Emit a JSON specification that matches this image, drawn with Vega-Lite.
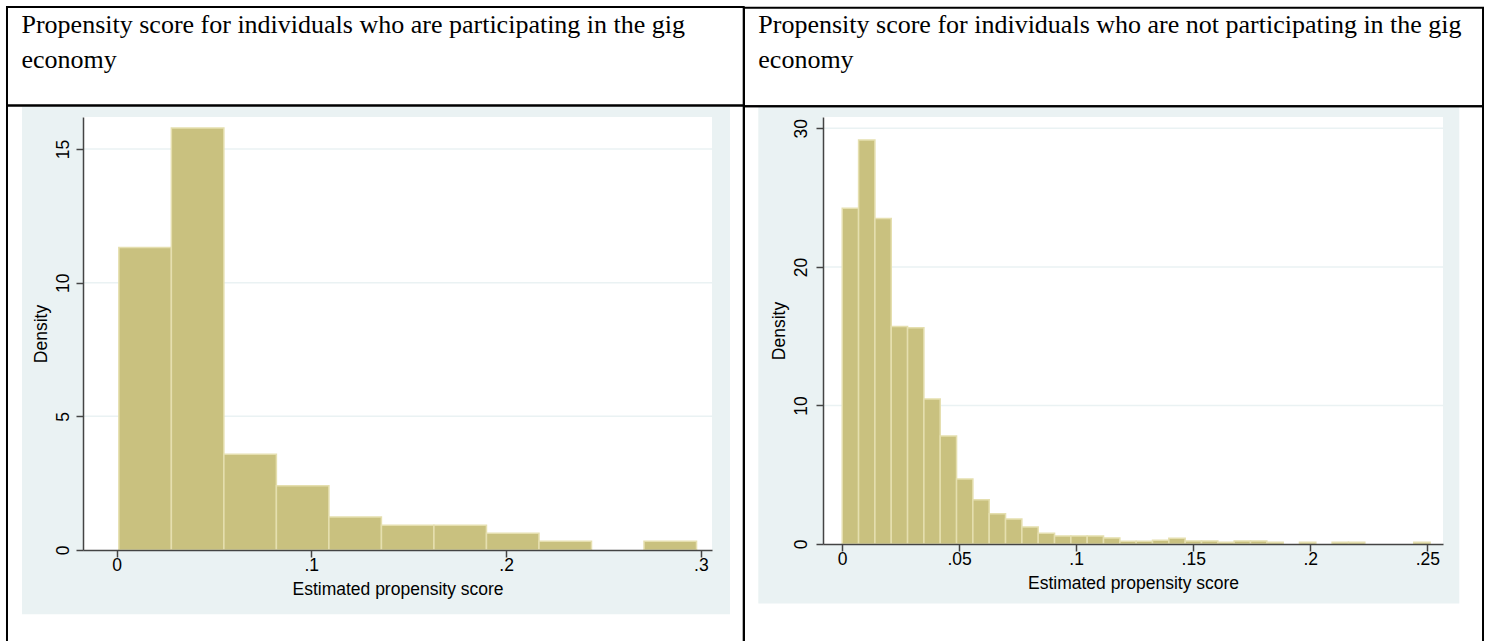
{
  "$schema": "https://vega.github.io/schema/vega-lite/v6.json",
  "background": "white",
  "padding": 5,
  "spacing": -2,
  "config": {
    "view": {"stroke": null},
    "axis": {
      "domainColor": "#444444", "domainWidth": 1.5,
      "tickColor": "#444444", "tickWidth": 1.5, "tickSize": 7,
      "labelFont": "Liberation Sans", "labelFontSize": 17.5, "labelColor": "black",
      "titleFont": "Liberation Sans", "titleFontSize": 17.5, "titleFontWeight": "normal", "titleColor": "black",
      "grid": false
    },
    "axisX": {"labelPadding": -1, "titlePadding": 7, "labelAngle": 0,
      "labelExpr": "datum.value == 0 ? '0' : replace(format(datum.value, '~g'), '0.', '.')"},
    "axisY": {"labelAngle": -90, "labelAlign": "center", "labelBaseline": "alphabetic", "labelPadding": 8, "titlePadding": 4}
  },
  "hconcat": [
    {
      "width": 629,
      "height": 433,
      "data": {"values": [
        {"x0": 0.0012, "x1": 0.02816, "density": 11.32},
        {"x0": 0.02816, "x1": 0.05512, "density": 15.79},
        {"x0": 0.05512, "x1": 0.08208, "density": 3.58},
        {"x0": 0.08208, "x1": 0.10904, "density": 2.40},
        {"x0": 0.10904, "x1": 0.13600, "density": 1.23},
        {"x0": 0.13600, "x1": 0.16296, "density": 0.93},
        {"x0": 0.16296, "x1": 0.18992, "density": 0.93},
        {"x0": 0.18992, "x1": 0.21688, "density": 0.63},
        {"x0": 0.21688, "x1": 0.24384, "density": 0.33},
        {"x0": 0.27080, "x1": 0.29776, "density": 0.33}
      ]},
      "layer": [
        {
          "data": {"values": [{}]},
          "mark": {"type": "rect", "fill": "#EAF2F3", "clip": false},
          "encoding": {
            "x": {"datum": -0.04851, "type": "quantitative", "scale": {"domain": [-0.0172, 0.3057], "nice": false, "zero": false}},
            "x2": {"datum": 0.31494},
            "y": {"datum": 16.593, "type": "quantitative", "scale": {"domain": [0, 16.2], "nice": false, "zero": false}},
            "y2": {"datum": -2.406}
          }
        },
        {
          "data": {"values": [{}]},
          "mark": {"type": "rect", "fill": "white", "clip": false},
          "encoding": {
            "x": {"datum": -0.0172, "type": "quantitative", "scale": {"domain": [-0.0172, 0.3057], "nice": false, "zero": false}},
            "x2": {"datum": 0.3057},
            "y": {"datum": 16.2, "type": "quantitative", "scale": {"domain": [0, 16.2], "nice": false, "zero": false}},
            "y2": {"datum": 0}
          }
        },
        {
          "data": {"values": [{"g": 5}, {"g": 10}, {"g": 15}]},
          "mark": {"type": "rule", "color": "#EAF2F3", "strokeWidth": 1.5},
          "encoding": {
            "y": {"field": "g", "type": "quantitative", "scale": {"domain": [0, 16.2], "nice": false, "zero": false}}
          }
        },
        {
          "data": {"values": [{}]},
          "mark": {"type": "rect", "filled": false, "color": "black", "strokeWidth": 2, "clip": false},
          "encoding": {
            "x": {"datum": -0.05622, "type": "quantitative", "scale": {"domain": [-0.0172, 0.3057], "nice": false, "zero": false}},
            "x2": {"datum": 0.32197},
            "y": {"datum": 20.316, "type": "quantitative", "scale": {"domain": [0, 16.2], "nice": false, "zero": false}},
            "y2": {"datum": 16.630}
          }
        },
        {
          "data": {"values": [{}]},
          "mark": {"type": "rect", "filled": false, "color": "black", "strokeWidth": 2, "clip": false},
          "encoding": {
            "x": {"datum": -0.05622, "type": "quantitative", "scale": {"domain": [-0.0172, 0.3057], "nice": false, "zero": false}},
            "x2": {"datum": 0.32197},
            "y": {"datum": 16.630, "type": "quantitative", "scale": {"domain": [0, 16.2], "nice": false, "zero": false}},
            "y2": {"datum": -4.153}
          }
        },
        {
          "data": {"values": [{"t": "Propensity score for individuals who are participating in the gig\neconomy"}]},
          "mark": {"type": "text", "font": "Liberation Serif", "fontSize": 26, "lineHeight": 35, "align": "left", "baseline": "alphabetic", "color": "black", "lineBreak": "\n", "clip": false},
          "encoding": {
            "x": {"datum": -0.04877, "type": "quantitative", "scale": {"domain": [-0.0172, 0.3057], "nice": false, "zero": false}},
            "y": {"datum": 19.354, "type": "quantitative", "scale": {"domain": [0, 16.2], "nice": false, "zero": false}},
            "text": {"field": "t"}
          }
        },
        {
          "mark": {"type": "rect", "fill": "#C9C17F", "stroke": "#E5DFAF", "strokeWidth": 1.5, "clip": false},
          "encoding": {
            "x": {"field": "x0", "type": "quantitative", "scale": {"domain": [-0.0172, 0.3057], "nice": false, "zero": false},
              "axis": {"title": "Estimated propensity score", "values": [0, 0.1, 0.2, 0.3], "zindex": 1}},
            "x2": {"field": "x1"},
            "y": {"field": "density", "type": "quantitative", "scale": {"domain": [0, 16.2], "nice": false, "zero": false},
              "axis": {"title": "Density", "values": [0, 5, 10, 15], "labelPadding": 8, "zindex": 1}},
            "y2": {"datum": 0}
          }
        }
      ]
    },
    {
      "width": 620,
      "height": 427,
      "data": {"values": [
        {"x0": 0.000100, "x1": 0.007075, "density": 24.23},
        {"x0": 0.007075, "x1": 0.014050, "density": 29.16},
        {"x0": 0.014050, "x1": 0.021025, "density": 23.50},
        {"x0": 0.021025, "x1": 0.028000, "density": 15.69},
        {"x0": 0.028000, "x1": 0.034975, "density": 15.61},
        {"x0": 0.034975, "x1": 0.041950, "density": 10.47},
        {"x0": 0.041950, "x1": 0.048925, "density": 7.80},
        {"x0": 0.048925, "x1": 0.055900, "density": 4.69},
        {"x0": 0.055900, "x1": 0.062875, "density": 3.20},
        {"x0": 0.062875, "x1": 0.069850, "density": 2.19},
        {"x0": 0.069850, "x1": 0.076825, "density": 1.80},
        {"x0": 0.076825, "x1": 0.083800, "density": 1.23},
        {"x0": 0.083800, "x1": 0.090775, "density": 0.77},
        {"x0": 0.090775, "x1": 0.097750, "density": 0.58},
        {"x0": 0.097750, "x1": 0.104725, "density": 0.58},
        {"x0": 0.104725, "x1": 0.111700, "density": 0.58},
        {"x0": 0.111700, "x1": 0.118675, "density": 0.44},
        {"x0": 0.118675, "x1": 0.125650, "density": 0.20},
        {"x0": 0.125650, "x1": 0.132625, "density": 0.20},
        {"x0": 0.132625, "x1": 0.139600, "density": 0.27},
        {"x0": 0.139600, "x1": 0.146575, "density": 0.42},
        {"x0": 0.146575, "x1": 0.153550, "density": 0.22},
        {"x0": 0.153550, "x1": 0.160525, "density": 0.22},
        {"x0": 0.160525, "x1": 0.167500, "density": 0.12},
        {"x0": 0.167500, "x1": 0.174475, "density": 0.22},
        {"x0": 0.174475, "x1": 0.181450, "density": 0.22},
        {"x0": 0.181450, "x1": 0.188425, "density": 0.12},
        {"x0": 0.195400, "x1": 0.202375, "density": 0.12},
        {"x0": 0.209350, "x1": 0.216325, "density": 0.12},
        {"x0": 0.216325, "x1": 0.223300, "density": 0.12},
        {"x0": 0.244225, "x1": 0.251200, "density": 0.12}
      ]},
      "layer": [
        {
          "data": {"values": [{}]},
          "mark": {"type": "rect", "fill": "#EAF2F3", "clip": false},
          "encoding": {
            "x": {"datum": -0.035755, "type": "quantitative", "scale": {"domain": [-0.00812, 0.2567], "nice": false, "zero": false}},
            "x2": {"datum": 0.26366},
            "y": {"datum": 31.541, "type": "quantitative", "scale": {"domain": [0, 30.82], "nice": false, "zero": false}},
            "y2": {"datum": -4.287}
          }
        },
        {
          "data": {"values": [{}]},
          "mark": {"type": "rect", "fill": "white", "clip": false},
          "encoding": {
            "x": {"datum": -0.00812, "type": "quantitative", "scale": {"domain": [-0.00812, 0.2567], "nice": false, "zero": false}},
            "x2": {"datum": 0.2567},
            "y": {"datum": 30.82, "type": "quantitative", "scale": {"domain": [0, 30.82], "nice": false, "zero": false}},
            "y2": {"datum": 0}
          }
        },
        {
          "data": {"values": [{"g": 10}, {"g": 20}, {"g": 30}]},
          "mark": {"type": "rule", "color": "#EAF2F3", "strokeWidth": 1.5},
          "encoding": {
            "y": {"field": "g", "type": "quantitative", "scale": {"domain": [0, 30.82], "nice": false, "zero": false}}
          }
        },
        {
          "data": {"values": [{}]},
          "mark": {"type": "rect", "filled": false, "color": "black", "strokeWidth": 2, "clip": false},
          "encoding": {
            "x": {"datum": -0.041863, "type": "quantitative", "scale": {"domain": [-0.00812, 0.2567], "nice": false, "zero": false}},
            "x2": {"datum": 0.27379},
            "y": {"datum": 38.708, "type": "quantitative", "scale": {"domain": [0, 30.82], "nice": false, "zero": false}},
            "y2": {"datum": 31.599}
          }
        },
        {
          "data": {"values": [{}]},
          "mark": {"type": "rect", "filled": false, "color": "black", "strokeWidth": 2, "clip": false},
          "encoding": {
            "x": {"datum": -0.041863, "type": "quantitative", "scale": {"domain": [-0.00812, 0.2567], "nice": false, "zero": false}},
            "x2": {"datum": 0.27379},
            "y": {"datum": 31.599, "type": "quantitative", "scale": {"domain": [0, 30.82], "nice": false, "zero": false}},
            "y2": {"datum": -8.495}
          }
        },
        {
          "data": {"values": [{"t": "Propensity score for individuals who are not participating in the gig\neconomy"}]},
          "mark": {"type": "text", "font": "Liberation Serif", "fontSize": 26, "lineHeight": 35, "align": "left", "baseline": "alphabetic", "color": "black", "lineBreak": "\n", "clip": false},
          "encoding": {
            "x": {"datum": -0.035755, "type": "quantitative", "scale": {"domain": [-0.00812, 0.2567], "nice": false, "zero": false}},
            "y": {"datum": 36.853, "type": "quantitative", "scale": {"domain": [0, 30.82], "nice": false, "zero": false}},
            "text": {"field": "t"}
          }
        },
        {
          "mark": {"type": "rect", "fill": "#C9C17F", "stroke": "#E5DFAF", "strokeWidth": 1.5, "clip": false},
          "encoding": {
            "x": {"field": "x0", "type": "quantitative", "scale": {"domain": [-0.00812, 0.2567], "nice": false, "zero": false},
              "axis": {"title": "Estimated propensity score", "values": [0, 0.05, 0.1, 0.15, 0.2, 0.25], "zindex": 1}},
            "x2": {"field": "x1"},
            "y": {"field": "density", "type": "quantitative", "scale": {"domain": [0, 30.82], "nice": false, "zero": false},
              "axis": {"title": "Density", "values": [0, 10, 20, 30], "labelPadding": 9.5, "zindex": 1}},
            "y2": {"datum": 0}
          }
        }
      ]
    }
  ]
}
